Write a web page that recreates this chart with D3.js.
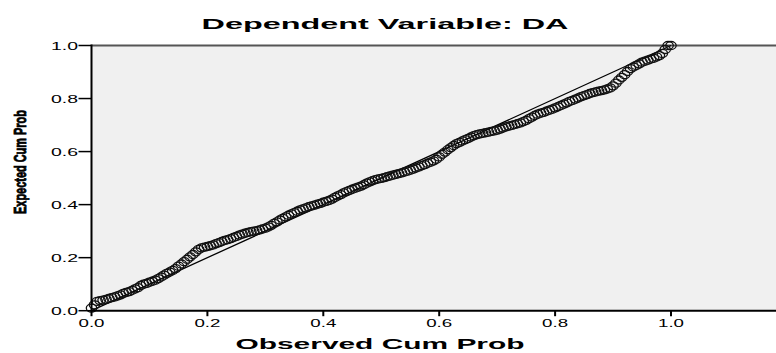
<!DOCTYPE html>
<html>
<head>
<meta charset="utf-8">
<script src="https://cdn.jsdelivr.net/npm/d3@7"></script>
<style>
  body { margin: 0; background: #fff; }
  svg { display: block; }
  text { font-family: "Liberation Sans", Arial, sans-serif; fill: #000; }
</style>
</head>
<body>
<svg id="chart" width="776" height="353"></svg>
<script>
// P-P plot data: observed vs expected cumulative probability
const observed = [
  0.000, 0.005, 0.010, 0.015, 0.020, 0.025, 0.030, 0.035, 0.040, 0.045,
  0.050, 0.055, 0.060, 0.065, 0.070, 0.075, 0.080, 0.085, 0.090, 0.095,
  0.100, 0.105, 0.110, 0.115, 0.120, 0.125, 0.130, 0.135, 0.140, 0.145,
  0.150, 0.155, 0.160, 0.165, 0.170, 0.175, 0.180, 0.185, 0.190, 0.195,
  0.200, 0.205, 0.210, 0.215, 0.220, 0.225, 0.230, 0.235, 0.240, 0.245,
  0.250, 0.255, 0.260, 0.265, 0.270, 0.275, 0.280, 0.285, 0.290, 0.295,
  0.300, 0.305, 0.310, 0.315, 0.320, 0.325, 0.330, 0.335, 0.340, 0.345,
  0.350, 0.355, 0.360, 0.365, 0.370, 0.375, 0.380, 0.385, 0.390, 0.395,
  0.400, 0.405, 0.410, 0.415, 0.420, 0.425, 0.430, 0.435, 0.440, 0.445,
  0.450, 0.455, 0.460, 0.465, 0.470, 0.475, 0.480, 0.485, 0.490, 0.495,
  0.500, 0.505, 0.510, 0.515, 0.520, 0.525, 0.530, 0.535, 0.540, 0.545,
  0.550, 0.555, 0.560, 0.565, 0.570, 0.575, 0.580, 0.585, 0.590, 0.595,
  0.600, 0.605, 0.610, 0.615, 0.620, 0.625, 0.630, 0.635, 0.640, 0.645,
  0.650, 0.655, 0.660, 0.665, 0.670, 0.675, 0.680, 0.685, 0.690, 0.695,
  0.700, 0.705, 0.710, 0.715, 0.720, 0.725, 0.730, 0.735, 0.740, 0.745,
  0.750, 0.755, 0.760, 0.765, 0.770, 0.775, 0.780, 0.785, 0.790, 0.795,
  0.800, 0.805, 0.810, 0.815, 0.820, 0.825, 0.830, 0.835, 0.840, 0.845,
  0.850, 0.855, 0.860, 0.865, 0.870, 0.875, 0.880, 0.885, 0.890, 0.895,
  0.900, 0.905, 0.910, 0.915, 0.920, 0.925, 0.930, 0.935, 0.940, 0.945,
  0.950, 0.955, 0.960, 0.965, 0.970, 0.975, 0.980, 0.985, 0.990, 0.995,
  1.000
]
const expected = [
  0.010, 0.022, 0.035, 0.038, 0.040, 0.043, 0.046, 0.049, 0.052, 0.056,
  0.060, 0.065, 0.069, 0.072, 0.077, 0.082, 0.087, 0.095, 0.100, 0.103,
  0.108, 0.111, 0.115, 0.121, 0.127, 0.134, 0.141, 0.146, 0.152, 0.159,
  0.168, 0.176, 0.185, 0.194, 0.203, 0.212, 0.222, 0.231, 0.237, 0.240,
  0.242, 0.245, 0.248, 0.253, 0.257, 0.261, 0.265, 0.268, 0.272, 0.276,
  0.280, 0.285, 0.289, 0.292, 0.295, 0.298, 0.300, 0.302, 0.305, 0.308,
  0.311, 0.316, 0.322, 0.329, 0.335, 0.342, 0.348, 0.354, 0.360, 0.365,
  0.370, 0.375, 0.380, 0.384, 0.388, 0.392, 0.395, 0.398, 0.402, 0.405,
  0.409, 0.412, 0.416, 0.421, 0.427, 0.433, 0.438, 0.444, 0.449, 0.454,
  0.458, 0.462, 0.466, 0.470, 0.475, 0.481, 0.486, 0.490, 0.494, 0.497,
  0.499, 0.502, 0.505, 0.508, 0.511, 0.514, 0.517, 0.520, 0.523, 0.526,
  0.530, 0.534, 0.538, 0.542, 0.547, 0.551, 0.556, 0.560, 0.565, 0.571,
  0.580, 0.590, 0.598, 0.607, 0.615, 0.623, 0.630, 0.635, 0.640, 0.645,
  0.650, 0.655, 0.660, 0.664, 0.667, 0.669, 0.671, 0.673, 0.676, 0.678,
  0.681, 0.685, 0.689, 0.693, 0.696, 0.699, 0.702, 0.705, 0.708, 0.713,
  0.718, 0.724, 0.730, 0.736, 0.741, 0.745, 0.748, 0.752, 0.756, 0.760,
  0.765, 0.769, 0.774, 0.779, 0.784, 0.789, 0.793, 0.798, 0.802, 0.807,
  0.811, 0.815, 0.819, 0.822, 0.825, 0.828, 0.830, 0.833, 0.836, 0.840,
  0.848, 0.858, 0.870, 0.880, 0.890, 0.902, 0.913, 0.919, 0.925, 0.931,
  0.937, 0.941, 0.945, 0.949, 0.952, 0.957, 0.962, 0.970, 0.985, 1.000,
  1.000
]
const diagonal = [0, 1]
const xTicks = [0.0, 0.2, 0.4, 0.6, 0.8, 1.0]
const yTicks = [0.0, 0.2, 0.4, 0.6, 0.8, 1.0]

const svg = d3.select("#chart")

const plotLeft = 91.5, plotTop = 45.5, plotBottom = 310.7, xAtOne = 671
const x = d3.scaleLinear().domain([0, 1]).range([plotLeft, xAtOne])
const y = d3.scaleLinear().domain([0, 1]).range([plotBottom, plotTop])

// plot background
svg.append("rect")
  .attr("x", plotLeft).attr("y", plotTop)
  .attr("width", 780 - plotLeft).attr("height", plotBottom - plotTop)
  .attr("fill", "#f0f0f0")

// top frame line
svg.append("line")
  .attr("x1", plotLeft).attr("x2", 780)
  .attr("y1", plotTop).attr("y2", plotTop)
  .attr("stroke", "#555").attr("stroke-width", 2)

// reference diagonal
svg.append("line")
  .attr("x1", x(diagonal[0])).attr("y1", y(diagonal[0]))
  .attr("x2", x(diagonal[1])).attr("y2", y(diagonal[1]))
  .attr("stroke", "#000").attr("stroke-width", 1.3)

// points
svg.append("g")
  .selectAll("ellipse")
  .data(observed)
  .join("ellipse")
  .attr("cx", (d) => x(d))
  .attr("cy", (d, i) => y(expected[i]))
  .attr("rx", 5.2)
  .attr("ry", 4)
  .attr("fill", "none")
  .attr("stroke", "#111")
  .attr("stroke-width", 1.3)

// x axis
const xAxis = svg.append("g")
xAxis.append("line")
  .attr("x1", plotLeft).attr("x2", 780)
  .attr("y1", plotBottom).attr("y2", plotBottom)
  .attr("stroke", "#000").attr("stroke-width", 2)
xAxis.selectAll(".xt")
  .data(xTicks)
  .join("line")
  .attr("x1", (d) => x(d)).attr("x2", (d) => x(d))
  .attr("y1", plotBottom).attr("y2", plotBottom + 5.5)
  .attr("stroke", "#000").attr("stroke-width", 2)
xAxis.selectAll(".xl")
  .data(xTicks)
  .join("text")
  .attr("x", (d) => x(d))
  .attr("y", 327)
  .attr("text-anchor", "middle")
  .attr("font-size", 11)
  .attr("textLength", 26)
  .attr("lengthAdjust", "spacingAndGlyphs")
  .text((d) => d3.format(".1f")(d))

// y axis
const yAxis = svg.append("g")
yAxis.append("line")
  .attr("x1", plotLeft).attr("x2", plotLeft)
  .attr("y1", plotTop - 1).attr("y2", plotBottom + 1)
  .attr("stroke", "#000").attr("stroke-width", 2)
yAxis.selectAll(".yt")
  .data(yTicks)
  .join("line")
  .attr("x1", plotLeft - 13).attr("x2", plotLeft)
  .attr("y1", (d) => y(d)).attr("y2", (d) => y(d))
  .attr("stroke", "#000").attr("stroke-width", 1.5)
yAxis.selectAll(".yl")
  .data(yTicks)
  .join("text")
  .attr("x", 78)
  .attr("y", (d) => y(d) + 4)
  .attr("text-anchor", "end")
  .attr("font-size", 11)
  .attr("textLength", 27)
  .attr("lengthAdjust", "spacingAndGlyphs")
  .text((d) => d3.format(".1f")(d))

// title
svg.append("text")
  .attr("x", 385).attr("y", 29)
  .attr("text-anchor", "middle")
  .attr("font-size", 15).attr("font-weight", "bold")
  .attr("textLength", 367)
  .attr("lengthAdjust", "spacingAndGlyphs")
  .text("Dependent Variable: DA")

// axis titles
svg.append("text")
  .attr("x", 380).attr("y", 349)
  .attr("text-anchor", "middle")
  .attr("font-size", 15).attr("font-weight", "bold")
  .attr("textLength", 289)
  .attr("lengthAdjust", "spacingAndGlyphs")
  .text("Observed Cum Prob")

// y title is condensed: squeeze it along its own direction
const yTitle = svg.append("text")
  .attr("text-anchor", "middle")
  .attr("font-size", 17).attr("font-weight", "bold")
  .attr("stroke", "#000").attr("stroke-width", 0.9)
  .text("Expected Cum Prob")
const sx = 104 / yTitle.node().getComputedTextLength()
yTitle.attr("transform", `translate(26,162) rotate(-90) scale(${sx},1)`)
</script>
</body>
</html>
